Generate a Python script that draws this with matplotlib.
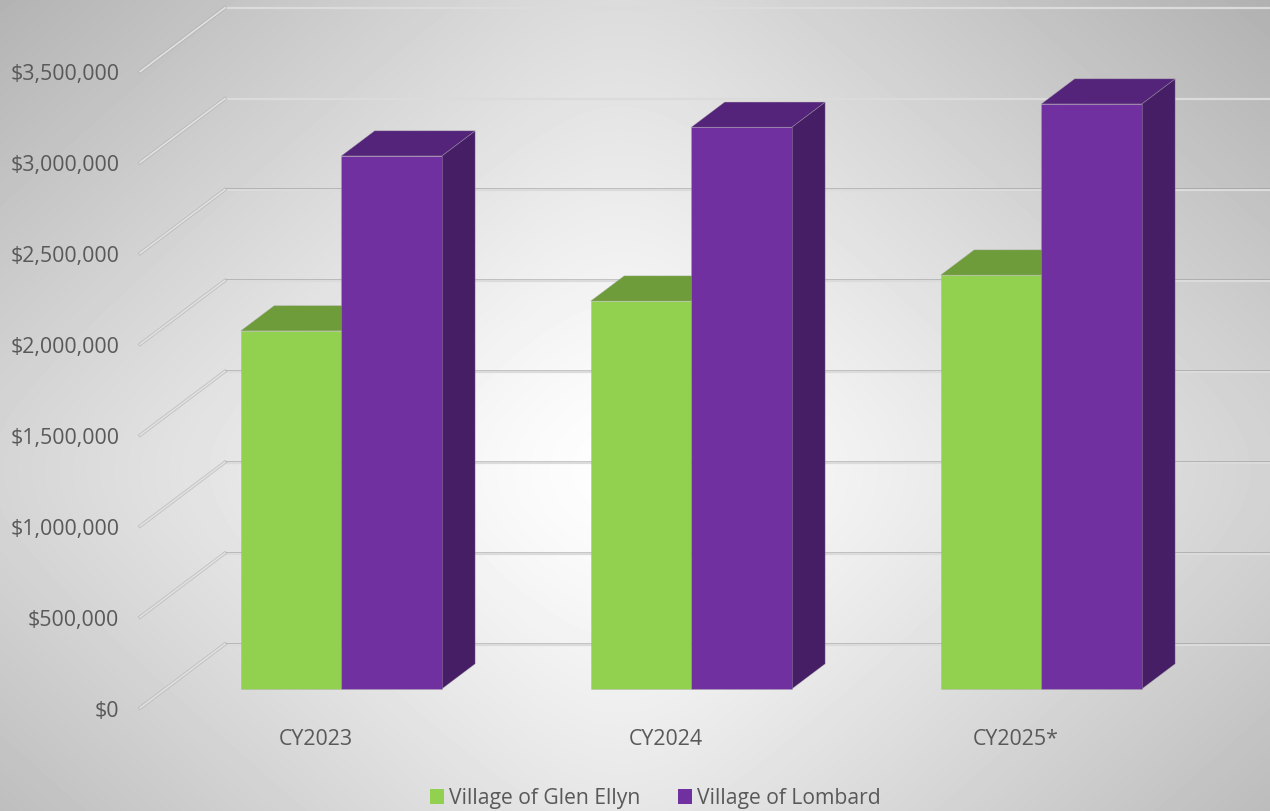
import numpy as np
import matplotlib
matplotlib.use("Agg")
import matplotlib.pyplot as plt
from matplotlib.patches import Polygon, Patch

plt.rcParams['font.family'] = ['Open Sans', 'DejaVu Sans']

categories = ["CY2023", "CY2024", "CY2025*"]
glen_ellyn = [1970000, 2134000, 2277000]
lombard = [2932000, 3090000, 3218000]
tick_values = [0, 500000, 1000000, 1500000, 2000000, 2500000, 3000000, 3500000]
series_names = ["Village of Glen Ellyn", "Village of Lombard"]

W, H = 1270, 811
PX_PER_CAT = 350.0
PX_PER_DOLLAR = 90.9 / 500000
X0_PX, Y0_PX = 316.0, 708.0    # category 0, $0 on the front plane

# oblique depth: 1 unit of depth moves this far
DEPTH_DX = 85.0 / PX_PER_CAT
DEPTH_DY = 64.0 / PX_PER_DOLLAR
BAR_D0, BAR_D1 = 0.297, 0.69
BAR_W = 100.5 / PX_PER_CAT
WALL_X = (140 - X0_PX) / PX_PER_CAT
EDGE = (0.66, 0.66, 0.66, 0.45)


def proj(x, v, d):
    return (x + d * DEPTH_DX, v + d * DEPTH_DY)


def box(ax, x0, x1, v, front, top, side=None):
    if side is not None:
        ax.add_patch(Polygon([proj(x1, 0, BAR_D0), proj(x1, 0, BAR_D1),
                              proj(x1, v, BAR_D1), proj(x1, v, BAR_D0)],
                             fc=side, ec=EDGE, lw=0.5, zorder=3))
    ax.add_patch(Polygon([proj(x0, v, BAR_D0), proj(x0, v, BAR_D1),
                          proj(x1, v, BAR_D1), proj(x1, v, BAR_D0)],
                         fc=top, ec=EDGE, lw=0.5, zorder=3))
    ax.add_patch(Polygon([proj(x0, 0, BAR_D0), proj(x1, 0, BAR_D0),
                          proj(x1, v, BAR_D0), proj(x0, v, BAR_D0)],
                         fc=front, ec=EDGE, lw=0.5, zorder=3))


fig = plt.figure(figsize=(W / 100, H / 100), dpi=100)

# grey path gradient behind the chart, rounded off around the bright middle
bg = fig.add_axes([0, 0, 1, 1], zorder=0)
yy, xx = np.mgrid[0:H, 0:W]
soft = 80.0
dist_x = np.sqrt((xx - 620.0) ** 2 + soft ** 2) - soft
dist_y = np.sqrt((yy - 470.0) ** 2 + soft ** 2) - soft
bg.imshow(253 - 0.0736 * dist_x - 0.085 * dist_y, cmap="gray", vmin=0, vmax=255, aspect="auto")
bg.axis("off")

ax = fig.add_axes([0, 0, 1, 1], zorder=1)
ax.patch.set_alpha(0)
ax.set_xlim(-X0_PX / PX_PER_CAT, (W - X0_PX) / PX_PER_CAT)
ax.set_ylim((Y0_PX - H) / PX_PER_DOLLAR, Y0_PX / PX_PER_DOLLAR)
ax.axis("off")

one_px = 1 / PX_PER_DOLLAR
x_end = ax.get_xlim()[1]
for v in tick_values:
    x_back, y_back = proj(WALL_X, v, 1)
    x_front, y_front = proj(WALL_X, v, 0)
    # back wall gridline, two-tone
    ax.plot([x_back, x_end], [y_back + one_px] * 2, color=(0.45, 0.45, 0.45), alpha=0.4, lw=0.7, zorder=1)
    ax.plot([x_back, x_end], [y_back - one_px * 0.6] * 2, color=(0.86, 0.86, 0.86), lw=1.6, zorder=1)
    # side wall gridline
    ax.plot([x_front, x_back], [y_front, y_back], color=(0.66, 0.66, 0.66), alpha=0.6, lw=2.4, zorder=1)
    ax.plot([x_front, x_back], [y_front, y_back], color=(0.88, 0.88, 0.88), lw=1.3, zorder=1)
    ax.annotate("${:,}".format(v), xy=(x_front, y_front), xytext=(-15, -2.2), textcoords="offset points",
                ha="right", va="center", fontsize=15.4, color="#595959", zorder=5)

for i, name in enumerate(categories):
    box(ax, i - BAR_W, i, glen_ellyn[i], "#92d050", "#6f9c3b")
    box(ax, i, i + BAR_W, lombard[i], "#7030a0", "#54237a", "#461e65")
    ax.annotate(name, xy=(i, 0), xytext=(0, -22.5), textcoords="offset points",
                ha="center", va="center", fontsize=15.4, color="#595959", zorder=5)

handles = [Patch(fc="#92d050"), Patch(fc="#7030a0")]
fig.legend(handles, series_names, ncol=2, loc="center", bbox_to_anchor=(655.5 / W, 1 - 798.5 / H),
           frameon=False, fontsize=15.2, labelcolor="#595959", handlelength=0.66, handleheight=0.66,
           handletextpad=0.27, columnspacing=1.75, borderpad=0)

fig.savefig("out.png", dpi=100)
